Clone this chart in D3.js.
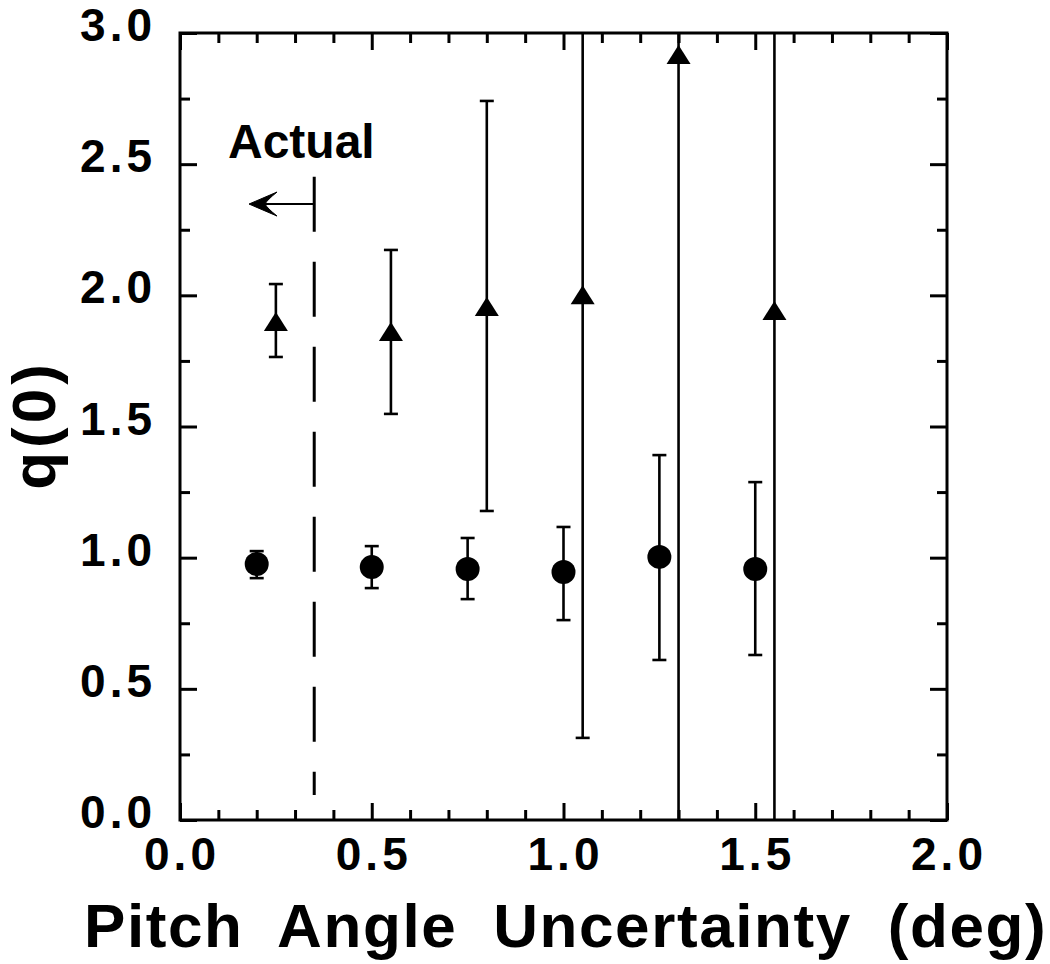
<!DOCTYPE html>
<html><head><meta charset="utf-8">
<script src="https://cdn.jsdelivr.net/npm/d3@7"></script>
<style>
html,body{margin:0;padding:0;background:#fff;}
text{font-family:"Liberation Sans",Arial,sans-serif;font-weight:bold;fill:#000;}
</style></head>
<body>
<svg id="chart" width="1050" height="964"></svg>
<script>
// ---- data ----
const circleX   = [0.2, 0.5, 0.75, 1.0, 1.25, 1.5];
const circleY   = [0.976, 0.964, 0.957, 0.945, 1.003, 0.957];
const circleLo  = [0.922, 0.884, 0.842, 0.762, 0.610, 0.629];
const circleHi  = [1.025, 1.044, 1.075, 1.117, 1.391, 1.288];

const triX  = [0.25, 0.55, 0.8, 1.05, 1.3, 1.55];
const triY  = [1.898, 1.860, 1.956, 2.000, 2.916, 1.940];
const triLo = [1.765, 1.548, 1.178, 0.313, -0.5, -0.5];
const triHi = [2.043, 2.173, 2.741, 3.6, 4.0, 3.6];

const xMajor = [0, 0.5, 1.0, 1.5, 2.0];
const xMinor = [0.1,0.2,0.3,0.4,0.6,0.7,0.8,0.9,1.1,1.2,1.3,1.4,1.6,1.7,1.8,1.9];
const yMajor = [0, 0.5, 1.0, 1.5, 2.0, 2.5, 3.0];
const yMinor = [0.25, 0.75, 1.25, 1.75, 2.25, 2.75];

const actualX = 0.35;          // "Actual" marker line
const actualRange = [0.095, 2.452];
const arrowTipX = 0.18;
const arrowY = 2.348;

const xTitle = "Pitch Angle Uncertainty (deg)";
const yTitle = "q(0)";
const annotation = "Actual";

// ---- layout ----
const L = 180, R = 947, T = 33, B = 820;
const svg = d3.select("#chart");
const x = d3.scaleLinear().domain([0, 2]).range([L, R]);
const y = d3.scaleLinear().domain([0, 3]).range([B, T]);

svg.append("clipPath").attr("id","plot").append("rect")
  .attr("x", L).attr("y", T).attr("width", R-L).attr("height", B-T);

const fmt = d3.format(".1f");
const MAJ = 17, MIN = 10;

function styleAxis(g){
  g.select(".domain").remove();
  g.selectAll(".tick line").attr("stroke","#000").attr("stroke-width",3);
}
// bottom
svg.append("g").attr("transform",`translate(0,${B})`)
  .call(d3.axisBottom(x).tickValues(xMajor).tickSizeInner(-MAJ).tickSizeOuter(0).tickPadding(0).tickFormat(""))
  .call(styleAxis);
svg.append("g").attr("transform",`translate(0,${B})`)
  .call(d3.axisBottom(x).tickValues(xMinor).tickSizeInner(-MIN).tickSizeOuter(0).tickFormat(""))
  .call(styleAxis);
// top
svg.append("g").attr("transform",`translate(0,${T})`)
  .call(d3.axisTop(x).tickValues(xMajor).tickSizeInner(-MAJ).tickSizeOuter(0).tickFormat(""))
  .call(styleAxis);
svg.append("g").attr("transform",`translate(0,${T})`)
  .call(d3.axisTop(x).tickValues(xMinor).tickSizeInner(-MIN).tickSizeOuter(0).tickFormat(""))
  .call(styleAxis);
// left
svg.append("g").attr("transform",`translate(${L},0)`)
  .call(d3.axisLeft(y).tickValues(yMajor).tickSizeInner(-MAJ).tickSizeOuter(0).tickFormat(""))
  .call(styleAxis);
svg.append("g").attr("transform",`translate(${L},0)`)
  .call(d3.axisLeft(y).tickValues(yMinor).tickSizeInner(-MIN).tickSizeOuter(0).tickFormat(""))
  .call(styleAxis);
// right
svg.append("g").attr("transform",`translate(${R},0)`)
  .call(d3.axisRight(y).tickValues(yMajor).tickSizeInner(-MAJ).tickSizeOuter(0).tickFormat(""))
  .call(styleAxis);
svg.append("g").attr("transform",`translate(${R},0)`)
  .call(d3.axisRight(y).tickValues(yMinor).tickSizeInner(-MIN).tickSizeOuter(0).tickFormat(""))
  .call(styleAxis);

// frame
svg.append("rect").attr("x",L).attr("y",T).attr("width",R-L).attr("height",B-T)
  .attr("fill","none").attr("stroke","#000").attr("stroke-width",3);

// tick labels
svg.append("g").selectAll("text").data(xMajor).join("text")
  .attr("x", d => x(d) + 2).attr("y", B + 50)
  .attr("text-anchor","middle").attr("font-size",46).attr("letter-spacing",4)
  .text(fmt);
svg.append("g").selectAll("text").data(yMajor).join("text")
  .attr("x", L - 24).attr("y", d => y(d) + 8)
  .attr("text-anchor","end").attr("font-size",46).attr("letter-spacing",4)
  .text(fmt);

// axis titles
svg.append("text").attr("x", 84).attr("y", 947)
  .attr("font-size",62).attr("word-spacing",17).attr("letter-spacing",1.6)
  .text(xTitle);
svg.append("text").attr("transform","translate(55,425) rotate(-90)")
  .attr("text-anchor","middle").attr("font-size",62).attr("letter-spacing",4)
  .text(yTitle);

// annotation
svg.append("line")
  .attr("x1", x(actualX)).attr("x2", x(actualX))
  .attr("y1", y(actualRange[1])).attr("y2", y(actualRange[0]))
  .attr("stroke","#000").attr("stroke-width",3).attr("stroke-dasharray","55,30");
svg.append("line")
  .attr("x1", x(actualX)).attr("x2", x(arrowTipX) + 6)
  .attr("y1", y(arrowY)).attr("y2", y(arrowY))
  .attr("stroke","#000").attr("stroke-width",2);
{
  const tx = x(arrowTipX), ty = y(arrowY);
  svg.append("path")
    .attr("d", `M${tx},${ty} Q${tx+14},${ty-6} ${tx+28},${ty-12} Q${tx+18},${ty-4} ${tx+16},${ty} Q${tx+18},${ty+4} ${tx+28},${ty+12} Q${tx+14},${ty+6} ${tx},${ty} Z`)
    .attr("fill","#000").attr("stroke","#000").attr("stroke-width",1);
}
svg.append("text").attr("x", 228).attr("y", 158).attr("font-size",48).text(annotation);

// data
const plot = svg.append("g").attr("clip-path","url(#plot)");
const circles = circleX.map((d,i)=>({x:d, y:circleY[i], lo:circleLo[i], hi:circleHi[i]}));
const tris = triX.map((d,i)=>({x:d, y:triY[i], lo:triLo[i], hi:triHi[i]}));
const CAP = 7;

function errorBars(data){
  const g = plot.append("g").attr("stroke","#000").attr("stroke-width",2.6);
  g.selectAll(".v").data(data).join("line")
    .attr("x1",d=>x(d.x)).attr("x2",d=>x(d.x)).attr("y1",d=>y(d.lo)).attr("y2",d=>y(d.hi));
  g.selectAll(".c1").data(data.filter(d=>d.hi<=3)).join("line")
    .attr("x1",d=>x(d.x)-CAP).attr("x2",d=>x(d.x)+CAP).attr("y1",d=>y(d.hi)).attr("y2",d=>y(d.hi));
  g.selectAll(".c2").data(data.filter(d=>d.lo>=0)).join("line")
    .attr("x1",d=>x(d.x)-CAP).attr("x2",d=>x(d.x)+CAP).attr("y1",d=>y(d.lo)).attr("y2",d=>y(d.lo));
}
errorBars(circles);
errorBars(tris);

plot.append("g").selectAll("circle").data(circles).join("circle")
  .attr("cx",d=>x(d.x)).attr("cy",d=>y(d.y)).attr("r",12).attr("fill","#000");
plot.append("g").selectAll("path").data(tris).join("path")
  .attr("d",d=>{const cx=x(d.x), cy=y(d.y); return `M${cx},${cy-10} L${cx+12},${cy+9} L${cx-12},${cy+9} Z`;})
  .attr("fill","#000");
</script>
</body></html>
